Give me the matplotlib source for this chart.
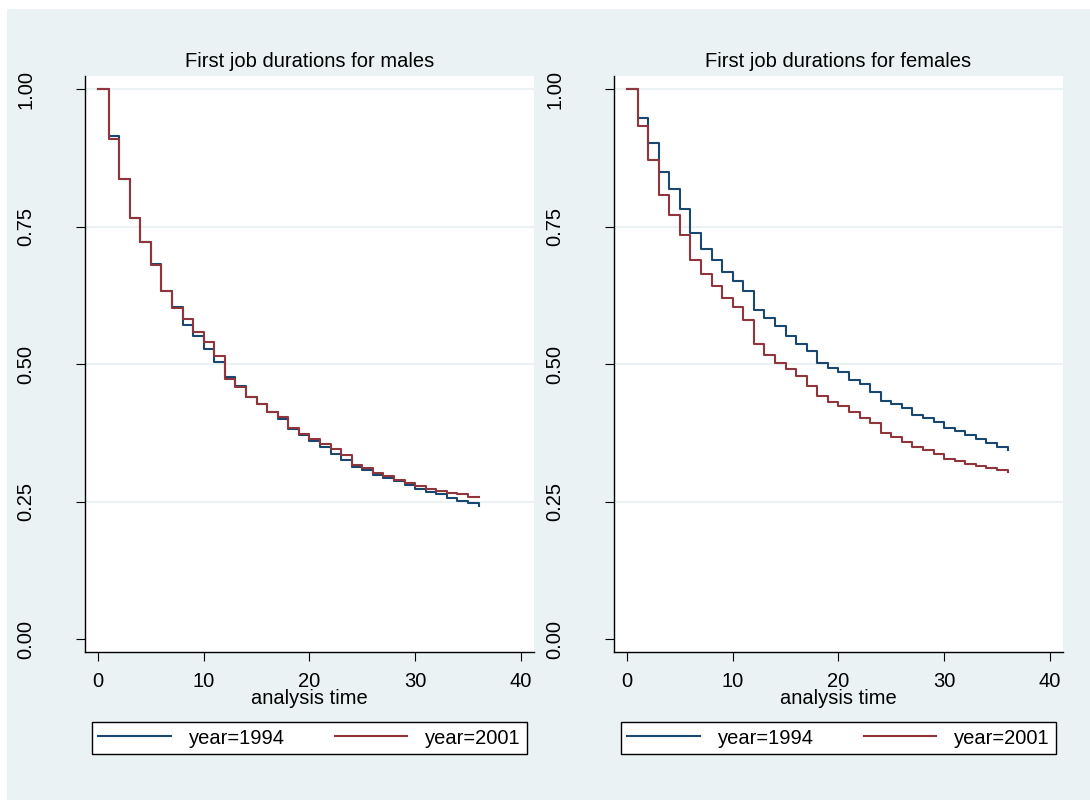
import matplotlib
matplotlib.use("Agg")
import matplotlib.pyplot as plt
from matplotlib.patches import Rectangle
from matplotlib.lines import Line2D

plt.rcParams['font.family'] = ['Liberation Sans', 'DejaVu Sans']

# analysis time (months)
time = list(range(0, 37))

# Survivor estimates, males
male_1994 = [1.000, 0.915, 0.836, 0.766, 0.722, 0.683, 0.634, 0.604, 0.572, 0.551,
             0.528, 0.505, 0.476, 0.460, 0.441, 0.427, 0.414, 0.401, 0.383, 0.371,
             0.361, 0.350, 0.337, 0.326, 0.313, 0.307, 0.299, 0.294, 0.287, 0.281,
             0.274, 0.267, 0.264, 0.257, 0.252, 0.248, 0.242]
male_2001 = [1.000, 0.909, 0.836, 0.766, 0.722, 0.680, 0.634, 0.602, 0.583, 0.559,
             0.540, 0.515, 0.474, 0.459, 0.441, 0.427, 0.414, 0.404, 0.385, 0.374,
             0.365, 0.355, 0.346, 0.335, 0.317, 0.312, 0.302, 0.297, 0.290, 0.285,
             0.279, 0.274, 0.270, 0.266, 0.264, 0.259, 0.258]

# Survivor estimates, females
female_1994 = [1.000, 0.948, 0.902, 0.849, 0.819, 0.783, 0.738, 0.710, 0.689, 0.667,
               0.652, 0.634, 0.599, 0.584, 0.569, 0.551, 0.537, 0.525, 0.503, 0.494,
               0.486, 0.472, 0.464, 0.450, 0.434, 0.427, 0.420, 0.408, 0.402, 0.395,
               0.384, 0.378, 0.372, 0.364, 0.356, 0.349, 0.344]
female_2001 = [1.000, 0.933, 0.871, 0.807, 0.771, 0.735, 0.690, 0.664, 0.642, 0.621,
               0.604, 0.580, 0.536, 0.517, 0.503, 0.491, 0.478, 0.461, 0.443, 0.432,
               0.424, 0.413, 0.403, 0.394, 0.375, 0.368, 0.359, 0.350, 0.344, 0.337,
               0.328, 0.324, 0.319, 0.315, 0.311, 0.308, 0.305]

titles = ["First job durations for males", "First job durations for females"]
series_labels = ["year=1994", "year=2001"]
xticks = [0, 10, 20, 30, 40]
yticks = [0.0, 0.25, 0.5, 0.75, 1.0]
ytick_labels = ["0.00", "0.25", "0.50", "0.75", "1.00"]

BG = "#EAF2F3"
BLUE = "#1A476F"
RED = "#90353B"
FS = 14.5

W, H = 1090, 800
fig = plt.figure(figsize=(W / 100, H / 100), dpi=100)
fig.patch.set_facecolor("white")
fig.patches.append(Rectangle((7 / W, 0), 1 - 7 / W, 1 - 9 / H,
                             transform=fig.transFigure, facecolor=BG,
                             edgecolor="none", zorder=-10))

panels = [
    (85, (male_1994, male_2001)),
    (614, (female_1994, female_2001)),
]

for (left_px, (s94, s01)), title in zip(panels, titles):
    ax = fig.add_axes([left_px / W, 1 - 652 / H, (449) / W, (652 - 76) / H])
    ax.set_facecolor("white")
    for y in [0.25, 0.5, 0.75, 1.0]:
        ax.axhline(y, color=BG, lw=1.5, zorder=0)
    ax.step(time, s94, where="post", color=BLUE, lw=1.5, zorder=3)
    ax.step(time, s01, where="post", color=RED, lw=1.5, zorder=4)
    ax.set_xlim(-1.23, 41.25)
    ax.set_ylim(-0.023, 1.024)
    ax.set_xticks(xticks)
    ax.set_xticklabels([str(t) for t in xticks])
    ax.set_yticks(yticks)
    ax.set_yticklabels(ytick_labels, rotation=90, va="center")
    for s in ["top", "right"]:
        ax.spines[s].set_visible(False)
    for s in ["left", "bottom"]:
        ax.spines[s].set_linewidth(1.0)
        ax.spines[s].set_color("black")
    ax.tick_params(axis="both", direction="out", length=6.5, width=0.8,
                   colors="black", labelsize=FS)
    ax.tick_params(axis="x", pad=8.0)
    ax.tick_params(axis="y", pad=29)
    ax.set_title(title, fontsize=FS, pad=6.5)
    ax.set_xlabel("analysis time", fontsize=FS, va="top")
    ax.xaxis.set_label_coords(0.5, -(689 - 652) / 576)

    handles = [Line2D([], [], color=BLUE, lw=1.5), Line2D([], [], color=RED, lw=1.5)]
    leg = ax.legend(handles, series_labels, loc="center", ncol=2,
                    bbox_to_anchor=((left_px + 7) / W, 1 - 757 / H, 435 / W, 38 / H),
                    bbox_transform=fig.transFigure, mode="expand",
                    fontsize=FS, frameon=True, fancybox=False, framealpha=1,
                    edgecolor="black", facecolor="white", borderaxespad=0,
                    handlelength=3.6, handletextpad=0.9, columnspacing=2.0,
                    borderpad=0.3)
    leg.get_frame().set_linewidth(1.0)

fig.savefig("out.png", dpi=100, facecolor=fig.get_facecolor())
